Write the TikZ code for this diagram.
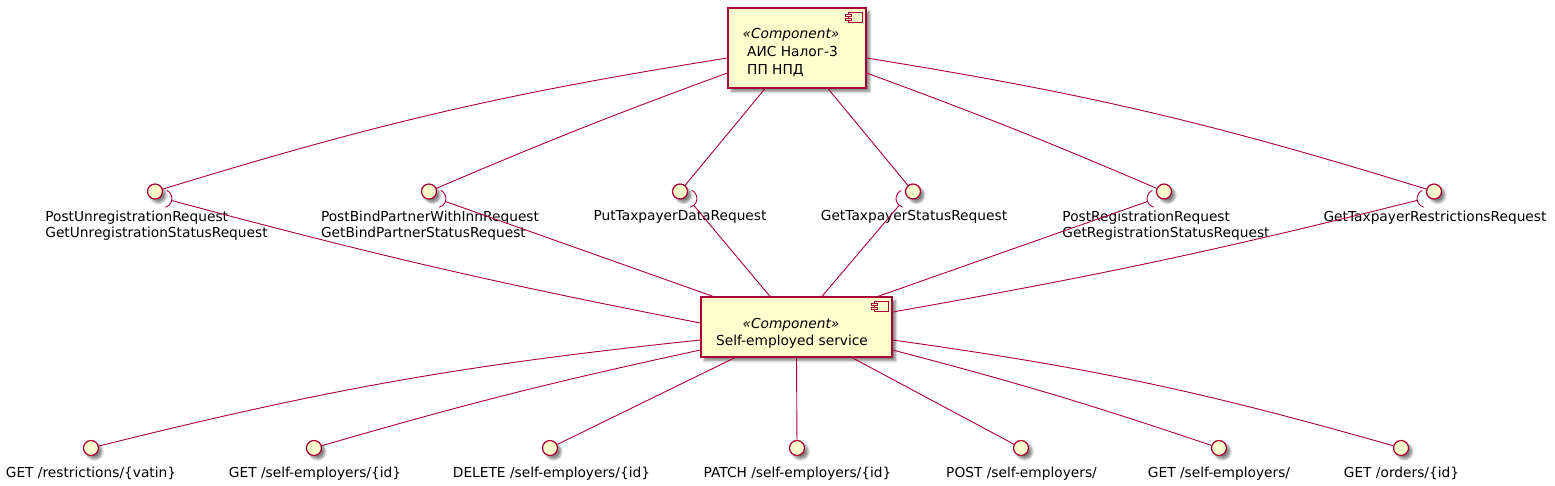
\documentclass[tikz,border=0pt]{standalone}
\usepackage{fontspec}
\setmainfont{DejaVu Sans}
\usetikzlibrary{calc,shadows.blur}
\definecolor{pborder}{HTML}{A80036}
\definecolor{pfill}{HTML}{FEFECE}
\begin{document}
\begin{tikzpicture}[x=1pt,y=-1pt,
  shad/.style={blur shadow={shadow xshift=3.5pt,shadow yshift=-3.5pt,shadow blur radius=2.5pt,shadow blur steps=6,shadow opacity=50}},
  comp/.style={rectangle,draw=pborder,fill=pfill,line width=1.25pt,inner sep=0pt,shad},
  iface/.style={circle,draw=pborder,fill=pfill,line width=1.25pt,minimum size=15pt,inner sep=0pt,shad},
  link/.style={draw=pborder,line width=0.9pt},
  icon/.style={draw=pborder,fill=pfill,line width=1pt},
  txt/.style={font=\fontsize{13.75}{16.5}\selectfont,inner sep=0pt},
  lbl/.style={txt,align=left,anchor=north},
  ster/.style={txt,font=\fontsize{13.75}{16.5}\selectfont\itshape,anchor=base},
]
\useasboundingbox (0,0) rectangle (1555,485);

% components
\node[comp,minimum width=138pt,minimum height=80pt] (T) at (797,48) {};
\node[comp,minimum width=191pt,minimum height=60pt] (B) at (796.5,327) {};

% component icons
\foreach \c in {T,B}{
  \draw[icon] ($(\c.north east)+(-18,5)$) rectangle ($(\c.north east)+(-4,15)$);
  \draw[icon] ($(\c.north east)+(-21,7)$) rectangle ($(\c.north east)+(-15,9.3)$);
  \draw[icon] ($(\c.north east)+(-21,11.3)$) rectangle ($(\c.north east)+(-15,13.6)$);
}

% component texts
\node[ster] (ts) at (791,38.5) {«Component»};
\node[txt,anchor=base west] (tn1) at (747,56.5) {АИС Налог-3};
\node[txt,anchor=base west] (tn2) at (747,74.5) {ПП НПД};
\node[ster] (bs) at (791,328) {«Component»};
\node[txt,anchor=base] (bn) at (792,345.5) {Self-employed service};

% provided interfaces (row 1)
\node[iface] (i1) at (155,191.5) {};
\node[iface] (i2) at (429,191.5) {};
\node[iface] (i3) at (680,191.5) {};
\node[iface] (i4) at (913,191.5) {};
\node[iface] (i5) at (1164,191.5) {};
\node[iface] (i6) at (1434,191.5) {};

\node[lbl] (l1) at (156.5,210.5) {PostUnregistrationRequest\\GetUnregistrationStatusRequest};
\node[lbl] (l2) at (430,210.5) {PostBindPartnerWithInnRequest\\GetBindPartnerStatusRequest};
\node[lbl] (l3) at (680,210.5) {PutTaxpayerDataRequest};
\node[lbl] (l4) at (914,210.5) {GetTaxpayerStatusRequest};
\node[lbl] (l5) at (1166,210.5) {PostRegistrationRequest\\GetRegistrationStatusRequest};
\node[lbl] (l6) at (1435,210.5) {GetTaxpayerRestrictionsRequest};

% bottom interfaces
\node[iface] (b1) at (91,448) {};
\node[iface] (b2) at (314,448) {};
\node[iface] (b3) at (550,448) {};
\node[iface] (b4) at (797,448) {};
\node[iface] (b5) at (1021,448) {};
\node[iface] (b6) at (1219,448) {};
\node[iface] (b7) at (1401,448) {};

\node[lbl] (m1) at (91,466.5) {GET /restrictions/\{vatin\}};
\node[lbl] (m2) at (315,466.5) {GET /self-employers/\{id\}};
\node[lbl] (m3) at (551.5,466.5) {DELETE /self-employers/\{id\}};
\node[lbl] (m4) at (797.5,466.5) {PATCH /self-employers/\{id\}};
\node[lbl] (m5) at (1021.5,466.5) {POST /self-employers/};
\node[lbl] (m6) at (1219,466.5) {GET /self-employers/};
\node[lbl] (m7) at (1401.5,466.5) {GET /orders/\{id\}};

% links from top component to provided interfaces
\draw[link] ($(T.west)+(0,10)$) to[bend right=4] (i1);
\draw[link] ($(T.west)+(0,25)$) to[bend right=1.5] (i2);
\draw[link] ($(T.south)+(-32,0)$) -- (i3);
\draw[link] ($(T.south)+(31,0)$) -- (i4);
\draw[link] ($(T.east)+(0,25)$) to[bend left=1.5] (i5);
\draw[link] ($(T.east)+(0,10)$) to[bend left=4] (i6);

% sockets (required interfaces of bottom component)
\coordinate (sc1) at ($(i1)+(8,7)$);
\coordinate (sc2) at ($(i2)+(8,7)$);
\coordinate (sc3) at ($(i3)+(8,7)$);
\coordinate (sc4) at ($(i4)+(-8,7)$);
\coordinate (sc5) at ($(i5)+(-8,7)$);
\coordinate (sc6) at ($(i6)+(-8,7)$);
\foreach \k in {1,2,3}{
  \draw[link] ($(sc\k)+(-65:9)$) arc[start angle=-65,end angle=75,radius=9];
}
\foreach \k in {4,5,6}{
  \draw[link] ($(sc\k)+(105:9)$) arc[start angle=105,end angle=245,radius=9];
}
\coordinate (ba1) at ($(B.west)+(0,-4)$);
\coordinate (ba2) at ($(B.north)+(-83.5,0)$);
\coordinate (ba3) at ($(B.north)+(-26.5,0)$);
\coordinate (ba4) at ($(B.north)+(25.5,0)$);
\coordinate (ba5) at ($(B.north)+(81.5,0)$);
\coordinate (ba6) at ($(B.east)+(0,-15)$);
\foreach \k in {1,...,6}{
  \coordinate (se\k) at ($(sc\k)!9pt!(ba\k)$);
}
\draw[link] (ba1) to[bend left=2] (se1);
\draw[link] (ba2) -- (se2);
\draw[link] (ba3) -- (se3);
\draw[link] (ba4) -- (se4);
\draw[link] (ba5) -- (se5);
\draw[link] (ba6) to[bend right=2] (se6);

% links from bottom component to its interfaces
\draw[link] ($(B.west)+(0,13)$) to[bend right=4] (b1);
\draw[link] ($(B.west)+(0,23)$) to[bend right=2] (b2);
\draw[link] ($(B.south)+(-61.5,0)$) -- (b3);
\draw[link] (B.south) -- (b4);
\draw[link] ($(B.south)+(55.5,0)$) -- (b5);
\draw[link] ($(B.east)+(0,23)$) to[bend left=2] (b6);
\draw[link] ($(B.east)+(0,13)$) to[bend left=4] (b7);
\end{tikzpicture}
\end{document}
